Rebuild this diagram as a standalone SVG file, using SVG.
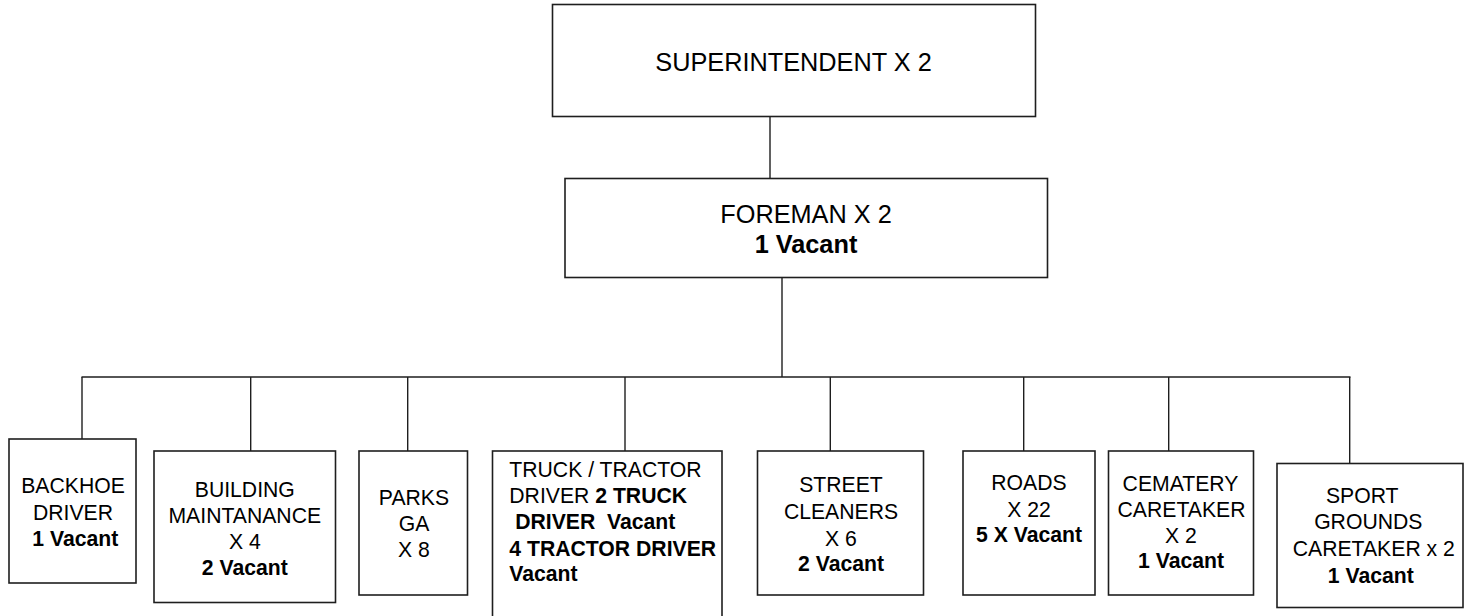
<svg xmlns="http://www.w3.org/2000/svg" width="1464" height="616" viewBox="0 0 1464 616">
  <style>
    .box { fill: #ffffff; stroke: #1e1e1e; stroke-width: 1.6; }
    .wire { fill: none; stroke: #1e1e1e; stroke-width: 1.4; }
    text { font-family: "Liberation Sans", Arial, sans-serif; fill: #000000; white-space: pre; }
    .top { font-size: 25.3px; text-anchor: middle; }
    .low { font-size: 21.2px; text-anchor: middle; }
    .left { font-size: 21.2px; text-anchor: start; }
    .b { font-weight: bold; }
  </style>
  <rect width="1464" height="616" fill="#ffffff"/>

  <g id="connectors">
    <line class="wire" x1="770" y1="116.5" x2="770" y2="178.5"/>
    <line class="wire" x1="782" y1="277.5" x2="782" y2="377"/>
    <line class="wire" x1="81.5" y1="377" x2="1350.5" y2="377"/>
    <line class="wire" x1="82" y1="377" x2="82" y2="439"/>
    <line class="wire" x1="250.7" y1="377" x2="250.7" y2="451"/>
    <line class="wire" x1="407.7" y1="377" x2="407.7" y2="451"/>
    <line class="wire" x1="625" y1="377" x2="625" y2="451"/>
    <line class="wire" x1="830.3" y1="377" x2="830.3" y2="451"/>
    <line class="wire" x1="1023.7" y1="377" x2="1023.7" y2="451"/>
    <line class="wire" x1="1168.7" y1="377" x2="1168.7" y2="451"/>
    <line class="wire" x1="1349.7" y1="377" x2="1349.7" y2="463.5"/>
  </g>

  <g id="superintendent">
    <rect class="box" x="552.5" y="4.5" width="483" height="112"/>
    <text class="top" x="793.5" y="71">SUPERINTENDENT X 2</text>
  </g>

  <g id="foreman">
    <rect class="box" x="565" y="178.5" width="482.5" height="99"/>
    <text class="top" x="806" y="222.7">FOREMAN X 2</text>
    <text class="top b" x="806" y="253.3">1 Vacant</text>
  </g>

  <g id="backhoe">
    <rect class="box" x="9" y="439" width="127" height="144"/>
    <text class="low" x="73" y="492.7">BACKHOE</text>
    <text class="low" x="73" y="519.5">DRIVER</text>
    <text class="low b" x="75.3" y="545.7">1 Vacant</text>
  </g>

  <g id="building">
    <rect class="box" x="154" y="451" width="181.5" height="151.5"/>
    <text class="low" x="244.8" y="496.7">BUILDING</text>
    <text class="low" x="244.8" y="523.3">MAINTANANCE</text>
    <text class="low" x="244.8" y="549">X 4</text>
    <text class="low b" x="244.8" y="575">2 Vacant</text>
  </g>

  <g id="parks">
    <rect class="box" x="359" y="451" width="108.5" height="144"/>
    <text class="low" x="414" y="505">PARKS</text>
    <text class="low" x="414" y="530.5">GA</text>
    <text class="low" x="414" y="556.7">X 8</text>
  </g>

  <g id="truck-tractor">
    <rect class="box" x="492.5" y="451" width="229.5" height="180"/>
    <text class="left" x="509.3" y="477.3">TRUCK / TRACTOR</text>
    <text class="left" x="509.3" y="502.7">DRIVER <tspan class="b">2 TRUCK</tspan></text>
    <text class="left b" x="509.3" y="529.3"> DRIVER  Vacant</text>
    <text class="left b" x="509.3" y="556">4 TRACTOR DRIVER</text>
    <text class="left b" x="509.3" y="580.5">Vacant</text>
  </g>

  <g id="street-cleaners">
    <rect class="box" x="757.5" y="451" width="166" height="144"/>
    <text class="low" x="841" y="491.7">STREET</text>
    <text class="low" x="841" y="519">CLEANERS</text>
    <text class="low" x="841" y="545.7">X 6</text>
    <text class="low b" x="841" y="570.7">2 Vacant</text>
  </g>

  <g id="roads">
    <rect class="box" x="963" y="451" width="132" height="144"/>
    <text class="low" x="1029" y="490">ROADS</text>
    <text class="low" x="1029" y="516.7">X 22</text>
    <text class="low b" x="1029" y="541.7">5 X Vacant</text>
  </g>

  <g id="cematery">
    <rect class="box" x="1108.5" y="451" width="145" height="144"/>
    <text class="low" x="1180.5" y="490.7">CEMATERY</text>
    <text class="low" x="1181.5" y="517.3">CARETAKER</text>
    <text class="low" x="1181" y="543.3">X 2</text>
    <text class="low b" x="1181" y="568.3">1 Vacant</text>
  </g>

  <g id="sport-grounds">
    <rect class="box" x="1277" y="463.5" width="186" height="144"/>
    <text class="low" x="1362.2" y="502.7">SPORT</text>
    <text class="low" x="1368.3" y="529.3">GROUNDS</text>
    <text class="low" x="1373.8" y="556">CARETAKER x 2</text>
    <text class="low b" x="1370.8" y="582.7">1 Vacant</text>
  </g>
</svg>
